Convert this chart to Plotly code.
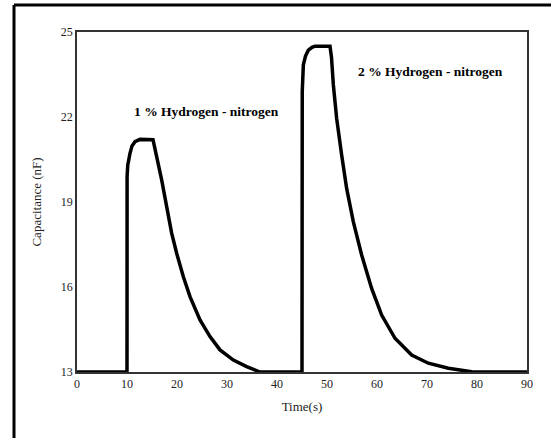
import plotly.graph_objects as go

time_s = [0, 10, 10.02, 10.15, 10.6, 11.0, 11.6, 12.6, 15.2, 15.5, 15.93, 16.93, 17.93, 18.93, 19.93, 21.27,
          22.6, 24.6, 26.6, 28.6, 31.27, 33.93, 36.6, 45,
          45.0, 45.05, 45.15, 45.27, 45.7, 46.27, 47.0, 47.6, 50.6, 50.9, 51.27, 51.93, 52.93, 53.93, 55.27, 56.93,
          58.93, 60.93, 63.6, 66.93, 70.27, 74.27, 78.93, 90]
capacitance_nF = [13, 13, 19.9, 20.3, 20.72, 20.98, 21.13, 21.21, 21.2, 21.0, 20.6, 19.78, 18.83, 17.9, 17.19, 16.36,
                  15.66, 14.84, 14.25, 13.78, 13.42, 13.19, 13.0, 13.0,
                  13.0, 22.9, 23.45, 23.84, 24.15, 24.36, 24.46, 24.5, 24.5, 24.1, 23.13, 21.95, 20.66, 19.48, 18.3,
                  17.13, 15.95, 15.01, 14.19, 13.6, 13.31, 13.13, 13.01, 13.0]

x_ticks = [0, 10, 20, 30, 40, 50, 60, 70, 80, 90]
y_ticks = [13, 16, 19, 22, 25]

labels = ["1 % Hydrogen - nitrogen", "2 % Hydrogen - nitrogen"]
label_x = [25.8, 70.6]
label_y = [22.2, 23.6]

font_family = "Liberation Serif, Times New Roman, serif"

fig = go.Figure()
fig.add_trace(go.Scatter(x=time_s, y=capacitance_nF, mode="lines",
                         line=dict(color="black", width=3.5),
                         showlegend=False, hoverinfo="skip"))

for t, lx, ly in zip(labels, label_x, label_y):
    fig.add_annotation(x=lx, y=ly, text="<b>" + t + "</b>", showarrow=False,
                       font=dict(family=font_family, size=13.5, color="black"))

# outer frame (left and top edges)
fig.add_shape(type="line", xref="paper", yref="paper", x0=-0.14, x1=-0.14, y0=-0.2, y1=1.0794,
              line=dict(color="black", width=3))
fig.add_shape(type="line", xref="paper", yref="paper", x0=-0.14, x1=1.1, y0=1.0794, y1=1.0794,
              line=dict(color="black", width=3))

fig.update_layout(
    width=551, height=438,
    margin=dict(l=77, r=24, t=32, b=66),
    paper_bgcolor="white", plot_bgcolor="white",
    font=dict(family=font_family, size=12, color="#222"),
    xaxis=dict(range=[0, 90], tickvals=x_ticks, showgrid=False, zeroline=False,
               showline=True, linecolor="#333", linewidth=1.5, mirror=True,
               ticks="", ticklen=0,
               title=dict(text="Time(s)", font=dict(family=font_family, size=13, color="#222"), standoff=12)),
    yaxis=dict(range=[13, 25], tickvals=y_ticks, showgrid=False, zeroline=False,
               showline=True, linecolor="#333", linewidth=1.5, mirror=True,
               ticks="", ticklen=0,
               title=dict(text="Capacitance (nF)", font=dict(family=font_family, size=13, color="#222"), standoff=16)),
)

fig.write_html("out.html")
